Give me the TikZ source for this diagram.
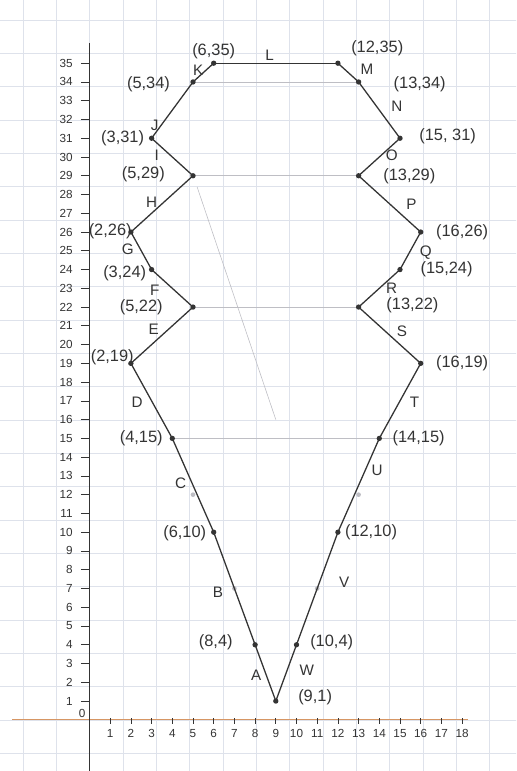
\documentclass[tikz,border=0pt]{standalone}
\usepackage{fontspec}
\setmainfont{Liberation Sans}
\definecolor{pencil}{RGB}{52,52,52}
\definecolor{paper}{RGB}{222,226,235}
\definecolor{faint}{RGB}{190,190,196}
\definecolor{axisline}{RGB}{214,150,100}
\tikzset{
	dot/.style={circle,fill=pencil,inner sep=0pt,minimum size=0.16cm},
	ghost/.style={circle,fill=faint,inner sep=0pt,minimum size=0.14cm},
	seglabel/.style={text=pencil,font=\fontsize{13}{15}\selectfont,inner sep=1pt},
	ptlabel/.style={text=pencil,font=\fontsize{14}{16}\selectfont,inner sep=1pt},
	ticklabel/.style={text=pencil,font=\fontsize{10}{12}\selectfont,inner sep=1pt},
}
\begin{document}
\begin{tikzpicture}[
		x={(0.621cm,0cm)},
		y={(0cm,0.5628cm)},
	]
		\useasboundingbox (-4.324,-2.729) rectangle (20.604,38.369);
		% graph paper
		\begin{scope}
			\clip (-4.324,-2.729) rectangle (20.604,38.369);
			\draw[paper,line width=0.4pt] (-5,-3) grid (21,39);
		\end{scope}
		
		% axes
		\draw[axisline,line width=0.9pt] (-3.74,0) -- (18.3,0);
		\draw[pencil,line width=0.9pt] (0,-2.729) -- (0,36.1);
		\node[ticklabel] (zero) at (-0.36,0.36) {0};
		\foreach \k in {1,...,35}{
			\draw[pencil,line width=0.6pt] (-0.42,\k) -- (0,\k);
			\node[ticklabel,anchor=east] (ylab\k) at (-0.75,\k) {\k};
		}
		\foreach \k in {1,...,18}{
			\draw[pencil,line width=0.6pt] (\k,0.08) -- (\k,-0.25);
			\node[ticklabel] (xlab\k) at (\k,-0.72) {\k};
		}
		
		% erased guide lines
		\draw[faint,line width=0.5pt] (4,15) -- (15.3,15);
		\draw[faint,line width=0.5pt] (5,22) -- (13,22);
		\draw[faint,line width=0.5pt] (5,29) -- (13,29);
		\draw[faint,line width=0.5pt] (5,34) -- (13,34);
		\draw[faint,line width=0.5pt] (5.2,28.4) -- (9,16);
		\foreach \gx/\gy in {5/12, 7/7, 13/12, 11/7}{
			\node[ghost] (g\gx-\gy) at (\gx,\gy) {};
		}
		
		% vertices
		\foreach \n/\px/\py in {1/9/1, 2/8/4, 3/6/10, 4/4/15, 5/2/19, 6/5/22, 7/3/24, 8/2/26,
			9/5/29, 10/3/31, 11/5/34, 12/6/35, 13/12/35, 14/13/34, 15/15/31, 16/13/29,
			17/16/26, 18/15/24, 19/13/22, 20/16/19, 21/14/15, 22/12/10, 23/10/4}{
			\node[dot] (v\n) at (\px,\py) {};
		}
		\draw[pencil,line width=1.1pt,line join=round]
			(v1.center) -- (v2.center) -- (v3.center) -- (v4.center) -- (v5.center) -- (v6.center)
			-- (v7.center) -- (v8.center) -- (v9.center) -- (v10.center) -- (v11.center) -- (v12.center);
		\draw[pencil,line width=0.7pt] (v12.center) -- (v13.center);
		\draw[pencil,line width=1.1pt,line join=round]
			(v13.center) -- (v14.center) -- (v15.center) -- (v16.center) -- (v17.center) -- (v18.center)
			-- (v19.center) -- (v20.center) -- (v21.center) -- (v22.center) -- (v23.center) -- (v1.center);
		
		% segment letters
		\foreach \s/\lx/\ly in {A/8.05/2.4, B/6.2/6.8, C/4.4/12.6, D/2.3/16.9, E/3.1/20.8, F/3.15/22.9,
			G/1.85/25.1, H/3.0/27.6, I/3.25/30.1, J/3.15/31.7, K/5.25/34.6, L/8.7/35.4,
			M/13.4/34.7, N/14.85/32.7, O/14.6/30.1, P/15.55/27.5, Q/16.25/24.9, R/14.6/23.0,
			S/15.1/20.7, T/15.7/16.9, U/13.9/13.3, V/12.3/7.35, W/10.5/2.65}{
			\node[seglabel] (s\s) at (\lx,\ly) {\s};
		}
		
		% point coordinates
		\foreach \n/\txt/\lx/\ly in {1/{(9,1)}/10.9/1.2, 2/{(8,4)}/6.1/4.15, 3/{(6,10)}/4.6/9.95,
			4/{(4,15)}/2.5/15.0, 5/{(2,19)}/1.1/19.35, 6/{(5,22)}/2.5/22.0, 7/{(3,24)}/1.7/23.8,
			8/{(2,26)}/1.0/26.05, 9/{(5,29)}/2.6/29.1, 10/{(3,31)}/1.6/31.0, 11/{(5,34)}/2.85/33.9,
			12/{(6,35)}/6.0/35.65, 13/{(12,35)}/13.9/35.8, 14/{(13,34)}/15.95/33.9,
			15/{(15, 31)}/17.3/31.1, 16/{(13,29)}/15.45/28.95, 17/{(16,26)}/18.0/26.0,
			18/{(15,24)}/17.25/24.0, 19/{(13,22)}/15.6/22.1, 20/{(16,19)}/18.0/19.0,
			21/{(14,15)}/15.9/15.0, 22/{(12,10)}/13.6/10.0, 23/{(10,4)}/11.7/4.15}{
			\node[ptlabel] (c\n) at (\lx,\ly) {\txt};
		}
	\end{tikzpicture}
\end{document}
